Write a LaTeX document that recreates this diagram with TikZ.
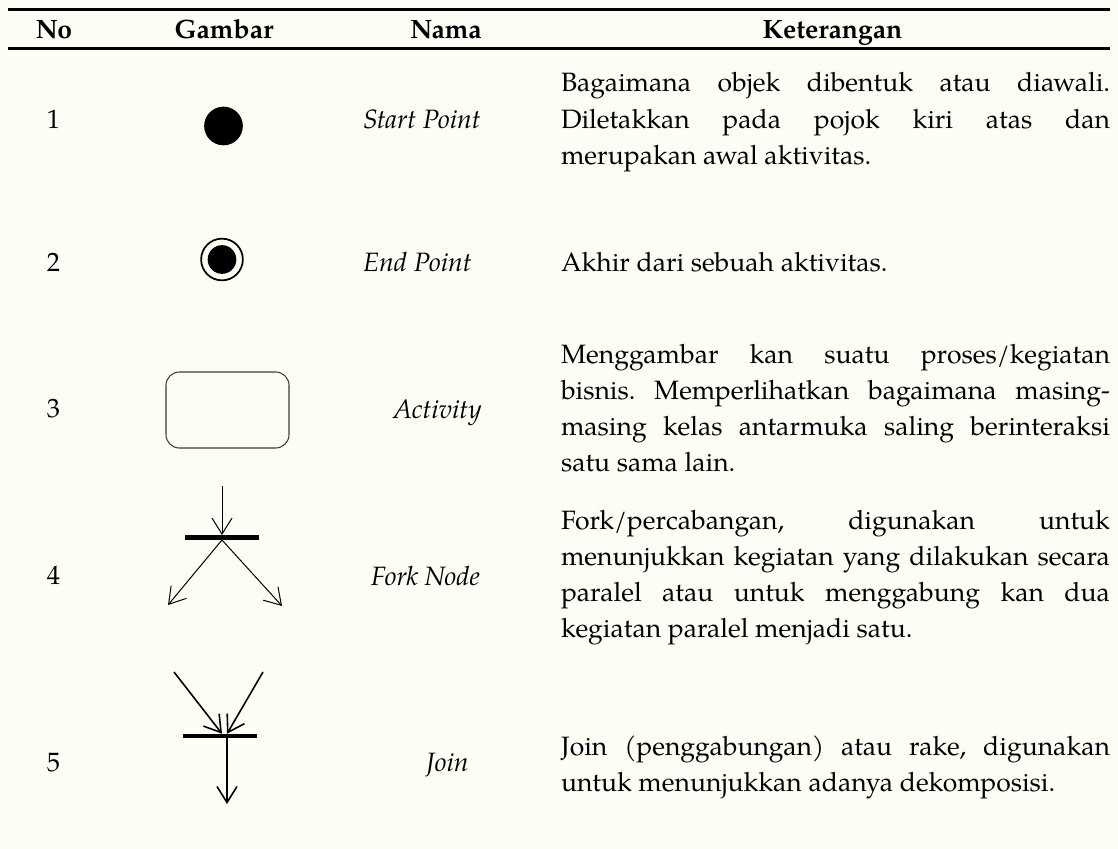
\documentclass[tikz,border=0pt]{standalone}
\usepackage{fontspec}
\setmainfont{TeX Gyre Pagella}
\usetikzlibrary{arrows.meta}
\definecolor{paper}{RGB}{253,253,246}
\definecolor{boxline}{RGB}{60,60,60}
\newcommand\bodysize{\fontsize{19.9pt}{27.2pt}\selectfont}
\frenchspacing
% a fully justified line of the description column
\newcommand\jline[1]{\makebox[411.75pt][s]{\spaceskip=0.25em plus 1fil\xspaceskip=\spaceskip #1}}

\begin{document}
\begin{tikzpicture}[x=0.75pt,y=-0.75pt,
  every node/.style={inner sep=0pt,outer sep=0pt},
  head/.style={anchor=base,font=\bodysize\bfseries},
  num/.style={anchor=base,font=\bodysize},
  lbl/.style={anchor=base west,font=\bodysize\itshape},
  desc/.style={anchor=base west,text width=411.75pt,align=flush left,font=\bodysize},
  rule/.style={line width=2pt},
  dot/.style={circle,fill=black,minimum size=#1},
  ring/.style={circle,draw=black,line width=1.3pt,minimum size=31.3pt},
  actbox/.style={draw=boxline,line width=0.8pt,rounded corners=10pt,
                 minimum width=92.25pt,minimum height=57pt},
  syncbar/.style={fill=black,minimum width=55.5pt,minimum height=#1},
  flow/.style={-{Straight Barb[length=12pt,width=15pt]},line width=0.75pt},
  joinflow/.style={-{Straight Barb[length=12pt,width=15pt]},line width=1.2pt},
]
\fill[paper] (0,0) rectangle (1118,849);
\useasboundingbox (0,0) rectangle (1118,849);

% table rules
\draw[rule] (8,9.5) -- (1110,9.5);
\draw[rule] (8,48.7) -- (1110,48.7);

% header
\node[head] (hno)  at (54,39)    {No};
\node[head] (hgb)  at (224,39)   {Gambar};
\node[head] (hnm)  at (446,39)   {Nama};
\node[head] (hket) at (832.5,39) {Keterangan};

% row 1: start point
\node[num] (n1) at (53.5,128) {1};
\node[dot=29pt] (start) at (223.5,126) {};
\node[lbl] (l1) at (363,128) {Start Point};
\node[desc] (d1) at (561,92) {\jline{Bagaimana objek dibentuk atau diawali.}\\
  \jline{Diletakkan pada pojok kiri atas dan}\\
  merupakan awal aktivitas.};

% row 2: end point
\node[num] (n2) at (53.5,271) {2};
\node[ring] (endring) at (222,259.5) {};
\node[dot=21.5pt] (enddot) at (endring.center) {};
\node[lbl] (l2) at (363,271) {End Point};
\node[desc] (d2) at (561,271) {Akhir dari sebuah aktivitas.};

% row 3: activity
\node[num] (n3) at (53.5,417) {3};
\node[actbox] (act) at (227.5,410) {};
\node[lbl] (l3) at (393,418) {Activity};
\node[desc] (d3) at (561,363) {\jline{Menggambar kan suatu proses/kegiatan}\\
  \jline{bisnis. Memperlihatkan bagaimana masing-}\\
  \jline{masing kelas antarmuka saling berinteraksi}\\
  satu sama lain.};

% row 4: fork node
\node[num] (n4) at (53.5,584) {4};
\node[syncbar=3.75pt] (fbar) at (222,537.5) {};
\coordinate (fin) at (222,486);
\coordinate (fleft) at (168,605);
\coordinate (fright) at (282,606);
\draw[flow] (fin) -- (fbar.north);
\draw[flow] (fbar.south) -- (fleft);
\draw[flow] (fbar.south) -- (fright);
\node[lbl] (l4) at (371,585) {Fork Node};
\node[desc] (d4) at (561,529) {\jline{Fork/percabangan, digunakan untuk}\\
  \jline{menunjukkan kegiatan yang dilakukan secara}\\
  \jline{paralel atau untuk menggabung kan dua}\\
  kegiatan paralel menjadi satu.};

% row 5: join
\node[num] (n5) at (53.5,771) {5};
\node[syncbar=3.4pt] (jbar) at (220,736) {};
\coordinate (jleft) at (174,672);
\coordinate (jright) at (263,672);
\coordinate (jout) at (227,804);
\draw[joinflow] (jleft) -- ([xshift=1.5pt]jbar.north);
\draw[joinflow] (jright) -- ([xshift=5.25pt]jbar.north);
\draw[joinflow] ([xshift=5.25pt]jbar.south) -- (jout);
\node[lbl] (l5) at (426,771) {Join};
\node[desc] (d5) at (561,755) {\jline{Join (penggabungan) atau rake, digunakan}\\
  untuk menunjukkan adanya dekomposisi.};
\end{tikzpicture}
\end{document}
